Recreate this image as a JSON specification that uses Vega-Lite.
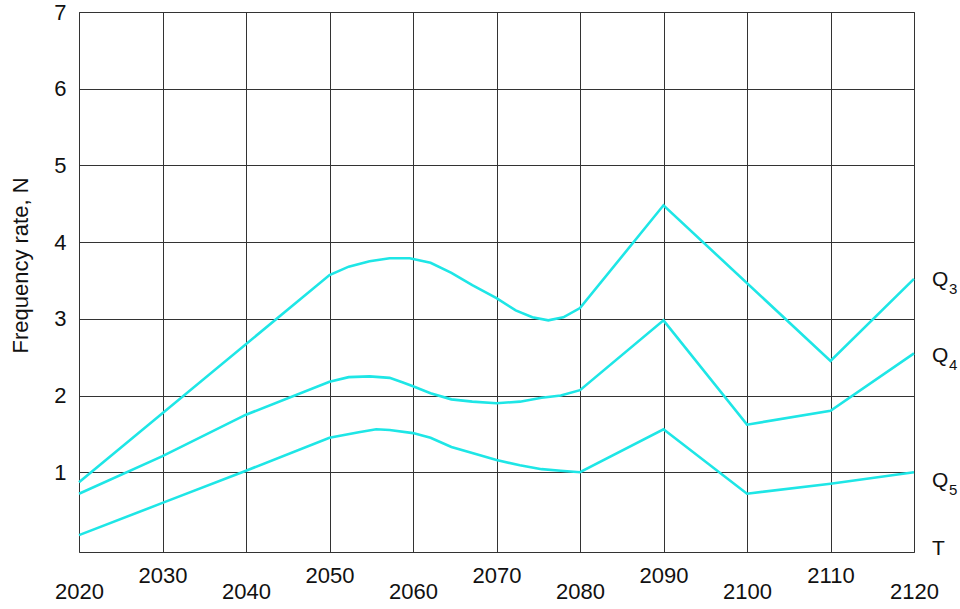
{
  "$schema": "https://vega.github.io/schema/vega-lite/v6.json",
  "width": 835,
  "height": 540,
  "autosize": "none",
  "padding": {"left": 79, "top": 12, "right": 46, "bottom": 57},
  "background": "white",
  "config": {
    "font": "Liberation Sans",
    "view": {"stroke": "#333", "strokeWidth": 1}
  },
  "datasets": {
    "curves": [
      {"series": "Q3", "year": 2020, "value": 0.87},
      {"series": "Q3", "year": 2050, "value": 3.57},
      {"series": "Q3", "year": 2052.3, "value": 3.68},
      {"series": "Q3", "year": 2054.8, "value": 3.75},
      {"series": "Q3", "year": 2057.2, "value": 3.79},
      {"series": "Q3", "year": 2059.6, "value": 3.79},
      {"series": "Q3", "year": 2062.1, "value": 3.73},
      {"series": "Q3", "year": 2064.6, "value": 3.6},
      {"series": "Q3", "year": 2067.1, "value": 3.44},
      {"series": "Q3", "year": 2070, "value": 3.27},
      {"series": "Q3", "year": 2072.3, "value": 3.11},
      {"series": "Q3", "year": 2074.3, "value": 3.02},
      {"series": "Q3", "year": 2076.2, "value": 2.98},
      {"series": "Q3", "year": 2078, "value": 3.02},
      {"series": "Q3", "year": 2080, "value": 3.14},
      {"series": "Q3", "year": 2090, "value": 4.48},
      {"series": "Q3", "year": 2110, "value": 2.45},
      {"series": "Q3", "year": 2120, "value": 3.52},
      {"series": "Q4", "year": 2020, "value": 0.72},
      {"series": "Q4", "year": 2030, "value": 1.21},
      {"series": "Q4", "year": 2040, "value": 1.75},
      {"series": "Q4", "year": 2050, "value": 2.18},
      {"series": "Q4", "year": 2052.3, "value": 2.24},
      {"series": "Q4", "year": 2054.8, "value": 2.25},
      {"series": "Q4", "year": 2057.2, "value": 2.23},
      {"series": "Q4", "year": 2058.8, "value": 2.17},
      {"series": "Q4", "year": 2060, "value": 2.12},
      {"series": "Q4", "year": 2062.1, "value": 2.03},
      {"series": "Q4", "year": 2064.6, "value": 1.95},
      {"series": "Q4", "year": 2067.1, "value": 1.92},
      {"series": "Q4", "year": 2070, "value": 1.9},
      {"series": "Q4", "year": 2072.8, "value": 1.92},
      {"series": "Q4", "year": 2075.4, "value": 1.97},
      {"series": "Q4", "year": 2077.7, "value": 2.0},
      {"series": "Q4", "year": 2080, "value": 2.07},
      {"series": "Q4", "year": 2090, "value": 2.98},
      {"series": "Q4", "year": 2100, "value": 1.62},
      {"series": "Q4", "year": 2110, "value": 1.8},
      {"series": "Q4", "year": 2120, "value": 2.55},
      {"series": "Q5", "year": 2020, "value": 0.18},
      {"series": "Q5", "year": 2030, "value": 0.6},
      {"series": "Q5", "year": 2040, "value": 1.02},
      {"series": "Q5", "year": 2050, "value": 1.45},
      {"series": "Q5", "year": 2053.5, "value": 1.52},
      {"series": "Q5", "year": 2055.6, "value": 1.56},
      {"series": "Q5", "year": 2057.2, "value": 1.55},
      {"series": "Q5", "year": 2060, "value": 1.51},
      {"series": "Q5", "year": 2062.1, "value": 1.45},
      {"series": "Q5", "year": 2064.6, "value": 1.33},
      {"series": "Q5", "year": 2067.1, "value": 1.25},
      {"series": "Q5", "year": 2070, "value": 1.16},
      {"series": "Q5", "year": 2072.8, "value": 1.09},
      {"series": "Q5", "year": 2075.4, "value": 1.04},
      {"series": "Q5", "year": 2077.7, "value": 1.02},
      {"series": "Q5", "year": 2080, "value": 1.0},
      {"series": "Q5", "year": 2090, "value": 1.56},
      {"series": "Q5", "year": 2100, "value": 0.72},
      {"series": "Q5", "year": 2110, "value": 0.85},
      {"series": "Q5", "year": 2120, "value": 1.0}
    ],
    "labels": [
      {"year": 2120, "value": 3.51, "label": "Q", "sub": "3"},
      {"year": 2120, "value": 2.52, "label": "Q", "sub": "4"},
      {"year": 2120, "value": 0.89, "label": "Q", "sub": "5"},
      {"year": 2120, "value": 0, "label": "T", "sub": ""}
    ]
  },
  "encoding": {
    "x": {
      "field": "year",
      "type": "quantitative",
      "scale": {"domain": [2020, 2120], "nice": false, "zero": false},
      "axis": {
        "title": null,
        "values": [2020, 2030, 2040, 2050, 2060, 2070, 2080, 2090, 2100, 2110, 2120],
        "format": "d",
        "ticks": false,
        "domain": false,
        "grid": true,
        "gridColor": "#333",
        "gridOpacity": 1,
        "gridWidth": 1,
        "labelFontSize": 22,
        "labelColor": "#111",
        "labelFlush": false,
        "labelOverlap": false,
        "labelPadding": {"condition": {"test": "datum.value % 20 === 0", "value": 29}, "value": 13}
      }
    },
    "y": {
      "field": "value",
      "type": "quantitative",
      "scale": {"domain": [-0.04, 7], "nice": false, "zero": false},
      "axis": {
        "title": "Frequency rate, N",
        "titleFontSize": 22,
        "titleFontWeight": "normal",
        "titleColor": "#111",
        "titleX": -59,
        "titleY": 253,
        "titleAlign": "center",
        "titleBaseline": "middle",
        "titleAngle": -90,
        "values": [1, 2, 3, 4, 5, 6, 7],
        "ticks": false,
        "domain": false,
        "grid": true,
        "gridColor": "#333",
        "gridOpacity": 1,
        "gridWidth": 1,
        "labelFontSize": 22,
        "labelColor": "#111",
        "labelPadding": 13,
        "labelOverlap": false
      }
    }
  },
  "layer": [
    {
      "data": {"name": "curves"},
      "mark": {"type": "line", "color": "#1ee6e6", "strokeWidth": 2.6, "interpolate": "linear"},
      "encoding": {
        "detail": {"field": "series", "type": "nominal"}
      }
    },
    {
      "data": {"name": "labels"},
      "mark": {"type": "text", "align": "left", "baseline": "middle", "dx": 18, "fontSize": 21, "color": "#111", "clip": false},
      "encoding": {
        "text": {"field": "label", "type": "nominal"}
      }
    },
    {
      "data": {"name": "labels"},
      "mark": {"type": "text", "align": "left", "baseline": "middle", "dx": 35, "dy": 9, "fontSize": 15, "color": "#111", "clip": false},
      "encoding": {
        "text": {"field": "sub", "type": "nominal"}
      }
    }
  ]
}
